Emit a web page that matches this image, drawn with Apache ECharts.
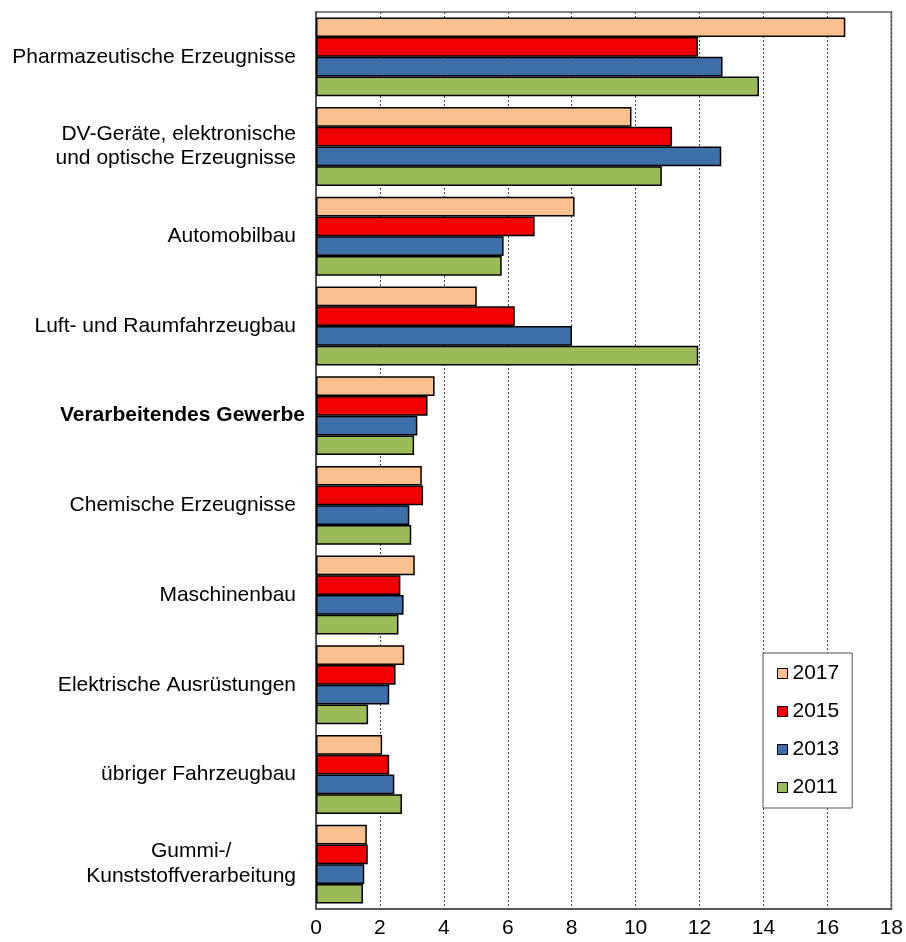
<!DOCTYPE html>
<html>
<head>
<meta charset="utf-8">
<script src="https://cdn.jsdelivr.net/npm/echarts@6/dist/echarts.min.js"></script>
<style>
  html, body { margin: 0; padding: 0; background: #fff; }
  #chart { width: 906px; height: 942px; }
</style>
</head>
<body>
<div id="chart"></div>
<script>
  const categories = [
    "Pharmazeutische Erzeugnisse",
    "DV-Geräte, elektronische\nund optische Erzeugnisse",
    "Automobilbau",
    "Luft- und Raumfahrzeugbau",
    "Verarbeitendes Gewerbe",
    "Chemische Erzeugnisse",
    "Maschinenbau",
    "Elektrische Ausrüstungen",
    "übriger Fahrzeugbau",
    "Gummi-/\nKunststoffverarbeitung"
  ];
  const years = ["2017", "2015", "2013", "2011"];
  const v2017 = [16.56, 9.87, 8.09, 5.03, 3.71, 3.31, 3.09, 2.76, 2.07, 1.59];
  const v2015 = [11.95, 11.14, 6.84, 6.22, 3.49, 3.35, 2.64, 2.49, 2.29, 1.62];
  const v2013 = [12.72, 12.68, 5.87, 8.01, 3.17, 2.92, 2.74, 2.29, 2.45, 1.51];
  const v2011 = [13.86, 10.82, 5.81, 11.96, 3.07, 2.98, 2.58, 1.63, 2.69, 1.47];
  const xTicks = [0, 2, 4, 6, 8, 10, 12, 14, 16, 18];

  const colors = ["#FAC090", "#F00000", "#3F6FA8", "#9BBB59"];
  const values = [v2017, v2015, v2013, v2011];

  const myChart = echarts.init(document.getElementById("chart"));
  myChart.setOption({
    animation: false,
    textStyle: { fontFamily: "Liberation Sans, Arial, sans-serif" },
    grid: {
      left: 316,
      right: 9,
      top: 12,
      bottom: 33,
      show: true,
      borderColor: "#888",
      borderWidth: 2,
      backgroundColor: "transparent"
    },
    legend: {
      orient: "vertical",
      left: 763,
      top: 653,
      data: years,
      itemWidth: 10,
      itemHeight: 10,
      itemGap: 17,
      padding: [10, 13, 10, 14],
      backgroundColor: "#fff",
      borderColor: "#555",
      borderWidth: 1,
      borderRadius: 0,
      icon: "rect",
      textStyle: { fontSize: 21, lineHeight: 21, color: "#000" },
      itemStyle: { borderColor: "#000", borderWidth: 1 }
    },
    xAxis: {
      type: "value",
      min: 0,
      max: 18,
      interval: 2,
      axisLine: { show: true, lineStyle: { color: "#555", width: 2 } },
      axisTick: { show: false },
      axisLabel: {
        fontSize: 21,
        color: "#000",
        margin: 9,
        formatter: (v) => (xTicks.includes(v) ? String(v) : "")
      },
      splitLine: { show: true, lineStyle: { color: "#444", type: [2, 2], width: 1 } }
    },
    yAxis: {
      type: "category",
      inverse: true,
      data: categories,
      axisLine: { show: true, lineStyle: { color: "#555", width: 2 } },
      axisTick: { show: false },
      axisLabel: {
        fontSize: 21,
        color: "#000",
        margin: 20,
        lineHeight: 24,
        align: "right",
        formatter: (v) => {
          if (v === "Verarbeitendes Gewerbe") return "{b|" + v + "}";
          if (v.startsWith("Gummi")) return v.split("\n").map((s) => "{c|" + s + "}").join("\n");
          return v;
        },
        rich: {
          b: { fontWeight: "bold", fontSize: 21, color: "#000", padding: [0, -9, 0, 0] },
          c: { fontSize: 21, color: "#000", lineHeight: 25, align: "center" }
        }
      }
    },
    series: years.map((y, i) => ({
      name: y,
      type: "bar",
      data: values[i],
      barGap: "0%",
      barCategoryGap: "12%",
      itemStyle: { color: colors[i], borderColor: "#000", borderWidth: 1.5 }
    }))
  });
</script>
</body>
</html>
